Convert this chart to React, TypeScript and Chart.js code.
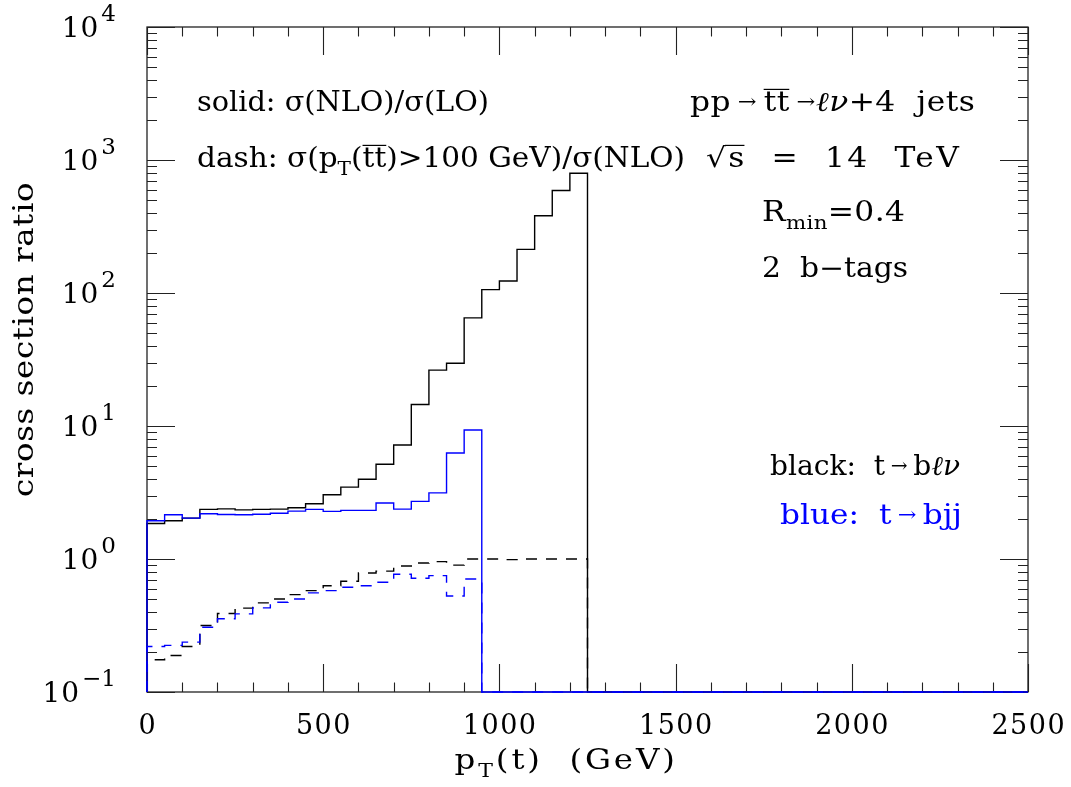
import React, { useEffect, useRef } from 'react';
import { Chart, registerables } from 'chart.js';

Chart.register(...registerables);

// ---------------- data ----------------
// bin edges of the 50 GeV histogram bins (GeV)
const binEdges = [
  0, 50, 100, 150, 200, 250, 300, 350, 400, 450, 500, 550, 600, 650, 700,
  750, 800, 850, 900, 950, 1000, 1050, 1100, 1150, 1200, 1250,
];
const xEnd = 2500;

// t -> b l nu (black), solid: sigma(NLO)/sigma(LO)
const blackSolid = [
  1.85, 1.94, 2.03, 2.36, 2.38, 2.34, 2.36, 2.37, 2.43, 2.6, 3.04, 3.47, 3.98,
  5.16, 7.2, 14.5, 26.3, 29.6, 65, 106, 123, 213, 381, 589, 795,
];
// t -> b l nu (black), dashed: sigma(pT(tt)>100 GeV)/sigma(NLO)
const blackDash = [
  0.175, 0.188, 0.22, 0.316, 0.389, 0.427, 0.468, 0.5, 0.54, 0.578, 0.63, 0.68,
  0.785, 0.81, 0.886, 0.933, 0.955, 0.9, 1.0, 1.0, 0.99, 1.0, 1.0, 1.0, 1.0,
];
// t -> bjj (blue), solid
const blueSolid = [
  1.94, 2.15, 2.03, 2.19, 2.16, 2.15, 2.17, 2.21, 2.29, 2.36, 2.28, 2.32, 2.32,
  2.64, 2.37, 2.71, 3.14, 6.27, 9.33,
];
// t -> bjj (blue), dashed
const blueDash = [
  0.22, 0.224, 0.237, 0.307, 0.355, 0.387, 0.429, 0.473, 0.5, 0.556, 0.578,
  0.613, 0.63, 0.668, 0.767, 0.716, 0.75, 0.527, 0.708,
];

const xTickLabels = ['0', '500', '1000', '1500', '2000', '2500'];
const xMajorStep = 500;
const xMinorStep = 100;
const yDecades = [0.1, 1, 10, 100, 1000, 10000];
const yExponents = ['\u22121', '0', '1', '2', '3', '4'];

const Y_MIN = 0.1;
const Y_MAX = 10000;

// ---------------- helpers ----------------
const FONT = '"DejaVu Serif", "Liberation Serif", serif';
const BLUE = '#0000ff';
const BLACK = '#000000';

// histogram -> step points; empty (zero) region lies on the axis floor
function histPoints(values: number[]) {
  const pts: { x: number; y: number }[] = [];
  pts.push({ x: binEdges[0], y: Y_MIN });
  values.forEach((v, i) => pts.push({ x: binEdges[i], y: v }));
  pts.push({ x: binEdges[values.length], y: Y_MIN });
  pts.push({ x: xEnd, y: Y_MIN });
  return pts;
}

type Seg = { t: string; k?: 'sub' | 'sup' | 'arrow'; it?: boolean; ol?: boolean };

function segSize(s: Seg, F: number) {
  if (s.k === 'sub') return F * 0.68;
  if (s.k === 'sup') return F * 0.8;
  if (s.k === 'arrow') return F * 0.72;
  return F;
}
function segDy(s: Seg, F: number) {
  if (s.k === 'sub') return F * 0.3;
  if (s.k === 'sup') return -F * 0.42;
  if (s.k === 'arrow') return -F * 0.1;
  return 0;
}
function setFont(ctx: CanvasRenderingContext2D, s: Seg, F: number) {
  ctx.font = `${s.it ? 'italic ' : ''}${segSize(s, F).toFixed(1)}px ${FONT}`;
}

function drawRich(
  ctx: CanvasRenderingContext2D,
  segs: Seg[],
  x: number,
  y: number,
  F: number,
  width: number,
  align: 'left' | 'center' | 'right',
  color: string,
  maxStretch = 1.16,
) {
  const anyCtx = ctx as any;
  anyCtx.letterSpacing = '0px';
  let natural = 0;
  let n = 0;
  segs.forEach((s) => {
    setFont(ctx, s, F);
    natural += ctx.measureText(s.t).width;
    n += [...s.t].length;
  });
  const sx = Math.max(0.8, Math.min(width / natural, maxStretch));
  const localW = width / sx;
  const ls = n > 1 ? (localW - natural) / (n - 0.5) : 0;
  const total = width;
  const startX = align === 'left' ? x : align === 'center' ? x - total / 2 : x - total;
  ctx.save();
  ctx.translate(startX, y);
  ctx.scale(sx, 1);
  ctx.fillStyle = color;
  ctx.strokeStyle = color;
  ctx.textAlign = 'left';
  ctx.textBaseline = 'alphabetic';
  let cx = 0;
  segs.forEach((s) => {
    setFont(ctx, s, F);
    anyCtx.letterSpacing = `${ls.toFixed(2)}px`;
    const w = ctx.measureText(s.t).width;
    ctx.fillText(s.t, cx, segDy(s, F));
    if (s.ol) {
      ctx.lineWidth = 1.2;
      ctx.beginPath();
      const oy = -F * 0.8;
      ctx.moveTo(cx - (s.t === 's' ? 3 : 0), oy);
      ctx.lineTo(cx + w - ls, oy);
      ctx.stroke();
    }
    cx += w;
  });
  anyCtx.letterSpacing = '0px';
  ctx.restore();
}

const S = (t: string, o: Partial<Seg> = {}): Seg => ({ t, ...o });
const ARROW = S('\u2192', { k: 'arrow' });
const TH = S('\u2009');

type Note = { segs: Seg[]; x: number; y: number; w: number; align: 'left' | 'center' | 'right'; color: string };
const notes: Note[] = [
  { segs: [S('solid: \u03c3(NLO)/\u03c3(LO)')], x: 197, y: 111, w: 292, align: 'left', color: BLACK },
  {
    segs: [S('dash: \u03c3(p'), S('T', { k: 'sub' }), S('('), S('tt', { ol: true }), S(')>100 GeV)/\u03c3(NLO)')],
    x: 197, y: 167, w: 488, align: 'left', color: BLACK,
  },
  {
    segs: [S('pp'), TH, ARROW, TH, S('tt', { ol: true }), TH, ARROW, S('\u2113\u03bd', { it: true }), S('+4  jets')],
    x: 690, y: 111, w: 285, align: 'left', color: BLACK,
  },
  { segs: [S('\u221a'), S('s', { ol: true }), S('  =  14  TeV')], x: 706, y: 167, w: 254, align: 'left', color: BLACK },
  { segs: [S('R'), S('min', { k: 'sub' }), S('=0.4')], x: 762, y: 221, w: 143, align: 'left', color: BLACK },
  { segs: [S('2  b\u2212tags')], x: 762, y: 277, w: 146, align: 'left', color: BLACK },
  { segs: [S('black:  t'), TH, ARROW, TH, S('b'), S('\u2113\u03bd', { it: true })], x: 770, y: 475, w: 190, align: 'left', color: BLACK },
  { segs: [S('blue:  t'), TH, ARROW, TH, S('bjj')], x: 780, y: 524, w: 182, align: 'left', color: BLUE },
];

const framePlugin = {
  id: 'framePlugin',
  beforeDatasetsDraw(chart: any) {
    const ctx: CanvasRenderingContext2D = chart.ctx;
    const xs = chart.scales.x;
    const ys = chart.scales.y;
    const { left, right, top, bottom } = chart.chartArea;
    ctx.save();
    ctx.strokeStyle = '#222';
    ctx.lineWidth = 1.3;
    ctx.strokeRect(left, top, right - left, bottom - top);
    ctx.lineWidth = 1.1;
    ctx.beginPath();
    // x ticks (bottom + top, inward)
    for (let v = 0; v <= xEnd; v += xMinorStep) {
      const px = Math.round(xs.getPixelForValue(v)) + 0.5;
      const len = v % xMajorStep === 0 ? 28 : 9.5;
      ctx.moveTo(px, bottom);
      ctx.lineTo(px, bottom - len);
      ctx.moveTo(px, top);
      ctx.lineTo(px, top + len);
    }
    // y ticks (left + right, inward)
    for (let d = 0; d < yDecades.length; d++) {
      const dec = yDecades[d];
      const py = Math.round(ys.getPixelForValue(dec)) + 0.5;
      ctx.moveTo(left, py);
      ctx.lineTo(left + 28, py);
      ctx.moveTo(right, py);
      ctx.lineTo(right - 28, py);
      if (d < yDecades.length - 1) {
        for (let m = 2; m <= 9; m++) {
          const pm = Math.round(ys.getPixelForValue(dec * m)) + 0.5;
          ctx.moveTo(left, pm);
          ctx.lineTo(left + 10, pm);
          ctx.moveTo(right, pm);
          ctx.lineTo(right - 10, pm);
        }
      }
    }
    ctx.stroke();
    ctx.restore();
  },
  afterDraw(chart: any) {
    const ctx: CanvasRenderingContext2D = chart.ctx;
    const xs = chart.scales.x;
    const ys = chart.scales.y;
    const { left, right, bottom, top } = chart.chartArea;
    ctx.save();
    const anyCtx = ctx as any;
    // x tick labels
    ctx.fillStyle = BLACK;
    ctx.textAlign = 'center';
    ctx.textBaseline = 'alphabetic';
    ctx.font = `27px ${FONT}`;
    anyCtx.letterSpacing = '1.5px';
    xTickLabels.forEach((lab) => {
      const px = xs.getPixelForValue(Number(lab));
      ctx.fillText(lab, px + 0.75, bottom + 42);
    });
    anyCtx.letterSpacing = '0px';
    // y tick labels 10^n
    yDecades.forEach((dec, i) => {
      const py = ys.getPixelForValue(dec);
      ctx.textAlign = 'right';
      ctx.font = `23px ${FONT}`;
      const ex = yExponents[i];
      const ew = ctx.measureText(ex).width;
      const rx = left - 31;
      ctx.fillText(ex, rx, py - 6);
      ctx.font = `28px ${FONT}`;
      anyCtx.letterSpacing = '1px';
      ctx.fillText('10', rx - ew - 2, py + 10);
      anyCtx.letterSpacing = '0px';
    });
    // axis titles
    drawRich(ctx, [S('p'), S('T', { k: 'sub' }), S('(t)  (GeV)')], (left + right) / 2 - 22, bottom + 77, 28, 222, 'center', BLACK);
    ctx.save();
    ctx.translate(33, (top + bottom) / 2 - 20);
    ctx.rotate(-Math.PI / 2);
    drawRich(ctx, [S('cross section ratio')], 0, 0, 28, 315, 'center', BLACK);
    ctx.restore();
    // annotations
    notes.forEach((nt) => drawRich(ctx, nt.segs, nt.x, nt.y, 27, nt.w, nt.align, nt.color));
    ctx.restore();
  },
};

export default function App() {
  const ref = useRef<HTMLCanvasElement | null>(null);
  useEffect(() => {
    if (!ref.current) return;
    const mk = (label: string, vals: number[], color: string, dashed: boolean, order: number) => ({
      label,
      data: histPoints(vals),
      borderColor: color,
      backgroundColor: color,
      borderWidth: 1.4,
      borderDash: dashed ? [11, 9] : [],
      stepped: true,
      fill: false,
      pointRadius: 0,
      clip: 3,
      order,
    });
    const chart = new Chart(ref.current, {
      type: 'line',
      data: {
        datasets: [
          mk('blue solid: t\u2192bjj', blueSolid, BLUE, false, 0),
          mk('blue dash: t\u2192bjj', blueDash, BLUE, true, 1),
          mk('black solid: t\u2192b\u2113\u03bd', blackSolid, BLACK, false, 2),
          mk('black dash: t\u2192b\u2113\u03bd', blackDash, BLACK, true, 3),
        ] as any,
      },
      options: {
        animation: false,
        responsive: false,
        maintainAspectRatio: false,
        devicePixelRatio: 1,
        layout: { padding: { left: 147, right: 43, top: 27, bottom: 95 } },
        plugins: { legend: { display: false }, tooltip: { enabled: false } },
        elements: { point: { radius: 0 } },
        scales: {
          x: { type: 'linear', min: 0, max: xEnd, display: false },
          y: { type: 'logarithmic', min: Y_MIN, max: Y_MAX, display: false },
        },
      } as any,
      plugins: [framePlugin],
    });
    return () => chart.destroy();
  }, []);
  return (
    <div style={{ position: 'absolute', left: 0, top: 0, width: 1071, height: 787, background: '#fff' }}>
      <canvas ref={ref} width={1071} height={787} style={{ display: 'block', width: 1071, height: 787 }} />
    </div>
  );
}
